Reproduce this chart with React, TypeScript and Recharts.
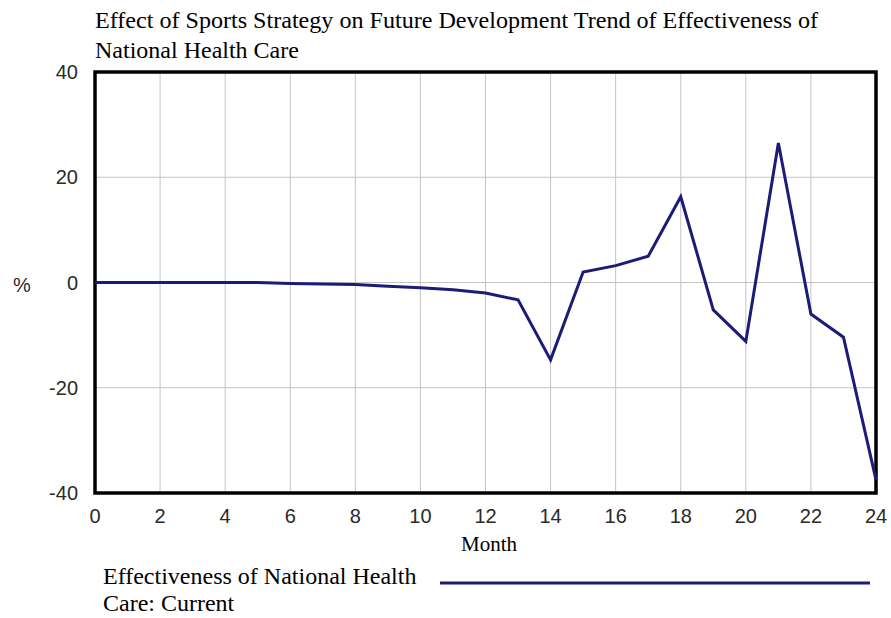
import { LineChart, Line, XAxis, YAxis, CartesianGrid, ReferenceArea } from "recharts";

const months = [0, 1, 2, 3, 4, 5, 6, 7, 8, 9, 10, 11, 12, 13, 14, 15, 16, 17, 18, 19, 20, 21, 22, 23, 24];
const effectiveness = [
  0, 0, 0, 0, 0, 0, -0.2, -0.3, -0.4, -0.7, -1, -1.4, -2, -3.3, -14.7, 2, 3.2, 5, 16.3, -5.2, -11.2, 26.5,
  -6, -10.4, -37.5,
];
const xTicks = [0, 2, 4, 6, 8, 10, 12, 14, 16, 18, 20, 22, 24];
const yTicks = [-40, -20, 0, 20, 40];

const titleLines = [
  "Effect of Sports Strategy on Future Development Trend of Effectiveness of",
  "National Health Care",
];
const legendLines = ["Effectiveness of National Health", "Care: Current"];

const data = months.map((m, i) => ({ month: m, value: effectiveness[i] }));

const lineColor = "#1c1c78";
const tickStyle = { fill: "#2a2a2a", fontSize: 20, fontFamily: "Liberation Sans, Arial, sans-serif" };
const serif = "Liberation Serif, Times New Roman, serif";

export default function App() {
  return (
    <div style={{ position: "absolute", left: 0, top: 0, width: 891, height: 618, background: "#fff" }}>
      <LineChart width={891} height={618} data={data} margin={{ top: 72, right: 15, bottom: 95, left: 0 }}>
        <CartesianGrid stroke="#c4c4c4" strokeWidth={1} />
        <XAxis
          dataKey="month"
          type="number"
          domain={[0, 24]}
          ticks={xTicks}
          interval={0}
          height={30}
          tickSize={0}
          tickMargin={16}
          tickLine={false}
          axisLine={false}
          tick={tickStyle}
        />
        <YAxis
          type="number"
          domain={[-40, 40]}
          ticks={yTicks}
          interval={0}
          width={95}
          tickSize={0}
          tickMargin={17}
          tickLine={false}
          axisLine={false}
          tick={tickStyle}
        />
        <Line
          type="linear"
          dataKey="value"
          stroke={lineColor}
          strokeWidth={3}
          dot={false}
          isAnimationActive={false}
        />
        <ReferenceArea
          x1={0}
          x2={24}
          y1={-40}
          y2={40}
          fill="none"
          fillOpacity={0}
          stroke="#000"
          strokeWidth={3.5}
          ifOverflow="visible"
        />
      </LineChart>
      <svg
        width={891}
        height={618}
        style={{ position: "absolute", left: 0, top: 0, pointerEvents: "none" }}
      >
        <text x={95} y={28} fontFamily={serif} fontSize={24} fill="#000" textLength={723} lengthAdjust="spacingAndGlyphs">
          {titleLines[0]}
        </text>
        <text x={95} y={58} fontFamily={serif} fontSize={24} fill="#000">
          {titleLines[1]}
        </text>
        <text x={13} y={292} fontFamily={tickStyle.fontFamily} fontSize={20} fill="#2a2a2a">
          %
        </text>
        <text x={489} y={551} fontFamily={serif} fontSize={21} fill="#000" textAnchor="middle">
          Month
        </text>
        <text x={103} y={584} fontFamily={serif} fontSize={24} fill="#000">
          {legendLines[0]}
        </text>
        <text x={103} y={611} fontFamily={serif} fontSize={24} fill="#000">
          {legendLines[1]}
        </text>
        <line x1={440} y1={583} x2={870} y2={583} stroke={lineColor} strokeWidth={3} />
      </svg>
    </div>
  );
}
